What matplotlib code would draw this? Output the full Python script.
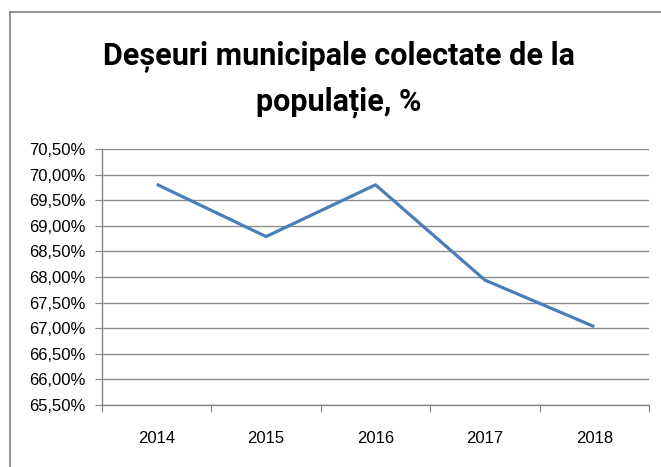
import matplotlib.pyplot as plt
from matplotlib.ticker import FuncFormatter
from matplotlib.lines import Line2D

years = ['2014', '2015', '2016', '2017', '2018']
values = [69.81, 68.79, 69.80, 67.94, 67.03]
y_ticks = [65.5 + 0.5 * i for i in range(11)]

plt.rcParams['font.family'] = ['Liberation Sans', 'DejaVu Sans']

fig = plt.figure(figsize=(6.61, 4.67), dpi=100)
W, H = 661, 467
ax = fig.add_axes([102 / W, 1 - 405 / H, (649 - 102) / W, (405 - 149) / H])

x = [i + 0.5 for i in range(len(years))]
ax.plot(x, values, color='#4A7EBB', linewidth=2.3, solid_capstyle='butt', zorder=3)

ax.set_xlim(0, len(years))
ax.set_ylim(65.5, 70.5)
ax.set_yticks(y_ticks)
ax.yaxis.set_major_formatter(FuncFormatter(lambda v, p: ('%.2f%%' % v).replace('.', ',')))
ax.set_xticks(range(len(years) + 1))
ax.set_xticklabels([])
ax.set_xticks(x, minor=True)
ax.set_xticklabels(years, minor=True)
ax.tick_params(axis='x', which='minor', length=0, pad=19, labelsize=12)
ax.tick_params(axis='x', which='major', length=5, color='#878787', direction='out')
ax.tick_params(axis='y', length=5, color='#878787', labelsize=12, pad=7)

ax.grid(axis='y', color='#8c8c8c', linewidth=1)
for s in ['top', 'right']:
    ax.spines[s].set_visible(False)
for s in ['left', 'bottom']:
    ax.spines[s].set_color('#878787')
    ax.spines[s].set_linewidth(1)
ax.set_axisbelow(True)

title_font = dict(ha='center', va='baseline', fontsize=22, fontweight='bold',
                  family=['Roboto', 'DejaVu Sans'])
fig.text(339 / W, 1 - 65 / H, 'Deșeuri municipale colectate de la', **title_font)
fig.text(339 / W, 1 - 110 / H, 'populație, %', **title_font)

# chart border (top and left visible)
fig.add_artist(Line2D([10 / W, 1], [1 - 12 / H, 1 - 12 / H], color='#7f7f7f', linewidth=1.2,
                      transform=fig.transFigure))
fig.add_artist(Line2D([10 / W, 10 / W], [0, 1 - 12 / H], color='#7f7f7f', linewidth=1.2,
                      transform=fig.transFigure))

fig.savefig('out.png', dpi=100)
